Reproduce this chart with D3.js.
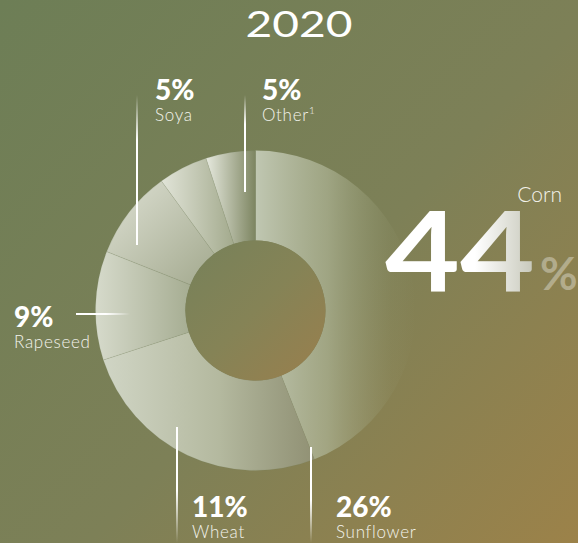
<!DOCTYPE html>
<html>
<head>
<meta charset="utf-8">
<script src="https://cdn.jsdelivr.net/npm/d3@7"></script>
<style>
  html, body { margin: 0; padding: 0; background: #7a805a; }
  svg { display: block; }
</style>
</head>
<body>
<div id="chart"></div>
<script>
// Crop shares, 2020
const categories = ["Corn", "Sunflower", "Wheat", "Rapeseed", "Soya", "Other"];
const shares = [44, 26, 11, 9, 5, 5];
const labelNames = ["Corn", "Sunflower", "Wheat", "Rapeseed", "Soya", "Other"];
const title = "2020";

const W = 578, H = 543;
const cx = 255.5, cy = 310.5;
const rOuter = 160, rInner = 70;

// per-slice gradient: direction (bounding box units) and stops
const sliceStyles = {
  Corn:      { dir: [0, 0, 1, 0], stops: [[0, "#c0c7b2", 1], [0.45, "#adb394", 0.72], [0.85, "#9a9e78", 0.12], [1, "#9a9e78", 0]] },
  Sunflower: { dir: [0, 0, 1, 0], stops: [[0, "#d0d5c5", 1], [0.55, "#b4b99f", 1], [1, "#93947a", 0.85]] },
  Wheat:     { dir: [0, 0, 1, 0], stops: [[0, "#d6dacb", 1], [1, "#a6ad92", 1]] },
  Rapeseed:  { dir: [0, 0, 1, 1], stops: [[0, "#dde0d3", 1], [1, "#a3a98e", 1]] },
  Soya:      { dir: [0, 0, 1, 0], stops: [[0, "#e1e4d8", 1], [1, "#a3aa8d", 1]] },
  Other:     { dir: [0, 0, 1, 0], stops: [[0, "#e6e9de", 1], [1, "#7d8561", 1]] }
};

// callout layout: value/name anchor and leader line
const callouts = {
  Soya:      { x: 155, y: 100, line: [137, 95, 137, 245], fade: "start" },
  Other:     { x: 262, y: 100, line: [245, 95, 245, 192], fade: "start", sup: "1" },
  Rapeseed:  { x: 14,  y: 327, line: [76, 314, 130, 314], fade: "end" },
  Wheat:     { x: 192, y: 517, line: [177, 427, 177, 543], fade: "end" },
  Sunflower: { x: 336, y: 517, line: [311, 447, 311, 543], fade: "end" }
};

const svg = d3.select("#chart").append("svg")
  .attr("width", W).attr("height", H)
  .attr("viewBox", `0 0 ${W} ${H}`);

const defs = svg.append("defs");

// background wash: olive top-left to ochre bottom-right
const bg = defs.append("linearGradient").attr("id", "bg")
  .attr("gradientUnits", "userSpaceOnUse")
  .attr("x1", 0).attr("y1", 0).attr("x2", W).attr("y2", H);
bg.append("stop").attr("offset", 0).attr("stop-color", "#6d7e56");
bg.append("stop").attr("offset", 0.55).attr("stop-color", "#7d8057");
bg.append("stop").attr("offset", 1).attr("stop-color", "#9c8249");

svg.append("rect").attr("width", W).attr("height", H).attr("fill", "url(#bg)");

// title
svg.append("text")
  .attr("x", 299).attr("y", 37)
  .attr("text-anchor", "middle")
  .attr("font-family", "Lato, 'Open Sans', sans-serif")
  .attr("font-weight", 400)
  .attr("font-size", 37)
  .attr("textLength", 107)
  .attr("lengthAdjust", "spacingAndGlyphs")
  .attr("fill", "#ffffff")
  .text(title);

// donut
const pie = d3.pie().sort(null).value(d => d.value)
  .startAngle(0).endAngle(2 * Math.PI);
const arc = d3.arc().innerRadius(rInner).outerRadius(rOuter);
const slices = pie(categories.map((c, i) => ({ name: c, value: shares[i] })));

slices.forEach((s, i) => {
  const st = sliceStyles[s.data.name];
  const g = defs.append("linearGradient").attr("id", "slice" + i)
    .attr("x1", st.dir[0]).attr("y1", st.dir[1])
    .attr("x2", st.dir[2]).attr("y2", st.dir[3]);
  st.stops.forEach(([o, c, a]) => {
    g.append("stop").attr("offset", o).attr("stop-color", c).attr("stop-opacity", a);
  });
});

const donut = svg.append("g").attr("transform", `translate(${cx},${cy})`);
donut.selectAll("path.slice")
  .data(slices)
  .join("path")
  .attr("class", "slice")
  .attr("d", arc)
  .attr("fill", (d, i) => `url(#slice${i})`)
  .attr("stroke", (d, i) => i === 0 ? "none" : "rgba(110,120,90,0.22)")
  .attr("stroke-width", 0.6);

// hole with its own warm wash
const hole = defs.append("linearGradient").attr("id", "hole")
  .attr("x1", 0).attr("y1", 0).attr("x2", 1).attr("y2", 1);
hole.append("stop").attr("offset", 0).attr("stop-color", "#76815a");
hole.append("stop").attr("offset", 0.5).attr("stop-color", "#858356");
hole.append("stop").attr("offset", 1).attr("stop-color", "#9a7f4d");
donut.append("circle").attr("r", rInner).attr("fill", "url(#hole)");

// leader lines and callouts
Object.entries(callouts).forEach(([name, c], k) => {
  const [x1, y1, x2, y2] = c.line;
  const gid = "lead" + k;
  const lg = defs.append("linearGradient").attr("id", gid)
    .attr("gradientUnits", "userSpaceOnUse")
    .attr("x1", x1).attr("y1", y1).attr("x2", x2).attr("y2", y2);
  if (c.fade === "start") {
    lg.append("stop").attr("offset", 0).attr("stop-color", "#fff").attr("stop-opacity", 0);
    lg.append("stop").attr("offset", 0.3).attr("stop-color", "#fff").attr("stop-opacity", 1);
    lg.append("stop").attr("offset", 1).attr("stop-color", "#fff").attr("stop-opacity", 1);
  } else {
    lg.append("stop").attr("offset", 0).attr("stop-color", "#fff").attr("stop-opacity", 1);
    lg.append("stop").attr("offset", 0.55).attr("stop-color", "#fff").attr("stop-opacity", 1);
    lg.append("stop").attr("offset", 1).attr("stop-color", "#fff").attr("stop-opacity", 0);
  }
  // a rect keeps the gradient valid for straight vertical/horizontal strokes
  const vertical = x1 === x2;
  svg.append("rect")
    .attr("x", vertical ? x1 - 1 : x1)
    .attr("y", vertical ? y1 : y1 - 1)
    .attr("width", vertical ? 2 : x2 - x1)
    .attr("height", vertical ? y2 - y1 : 2)
    .attr("fill", `url(#${gid})`);

  const idx = categories.indexOf(name);
  svg.append("text")
    .attr("x", c.x).attr("y", c.y)
    .attr("font-family", "Lato, sans-serif")
    .attr("font-weight", 900)
    .attr("font-size", 28)
    .attr("fill", "#ffffff")
    .text(shares[idx] + "%");

  const t = svg.append("text")
    .attr("x", c.x).attr("y", c.y + 21)
    .attr("font-family", "Lato, sans-serif")
    .attr("font-weight", 300)
    .attr("font-size", 17)
    .attr("letter-spacing", 0.7)
    .attr("fill", "#f3f3ec")
    .text(labelNames[idx]);
  if (c.sup) {
    t.append("tspan").attr("font-size", 10).attr("dy", -7).text(c.sup);
  }
});

// headline share for the largest crop
const big = defs.append("linearGradient").attr("id", "bigNum")
  .attr("gradientUnits", "userSpaceOnUse")
  .attr("x1", 385).attr("y1", 0).attr("x2", 535).attr("y2", 0);
big.append("stop").attr("offset", 0).attr("stop-color", "#ffffff");
big.append("stop").attr("offset", 0.6).attr("stop-color", "#ffffff");
big.append("stop").attr("offset", 1).attr("stop-color", "#c6c7b9");

const cornIdx = categories.indexOf("Corn");
svg.append("text")
  .attr("x", 562).attr("y", 202)
  .attr("text-anchor", "end")
  .attr("font-family", "Lato, sans-serif")
  .attr("font-weight", 300)
  .attr("font-size", 21)
  .attr("fill", "#f3f3ec")
  .text(labelNames[cornIdx]);

svg.append("text")
  .attr("x", 385).attr("y", 292)
  .attr("font-family", "Lato, sans-serif")
  .attr("font-weight", 700)
  .attr("font-size", 111)
  .attr("textLength", 150)
  .attr("lengthAdjust", "spacingAndGlyphs")
  .attr("fill", "url(#bigNum)")
  .text(String(shares[cornIdx]));

svg.append("text")
  .attr("x", 540).attr("y", 290)
  .attr("font-family", "Lato, sans-serif")
  .attr("font-weight", 700)
  .attr("font-size", 46)
  .attr("fill", "#ffffff")
  .attr("fill-opacity", 0.35)
  .text("%");
</script>
</body>
</html>
